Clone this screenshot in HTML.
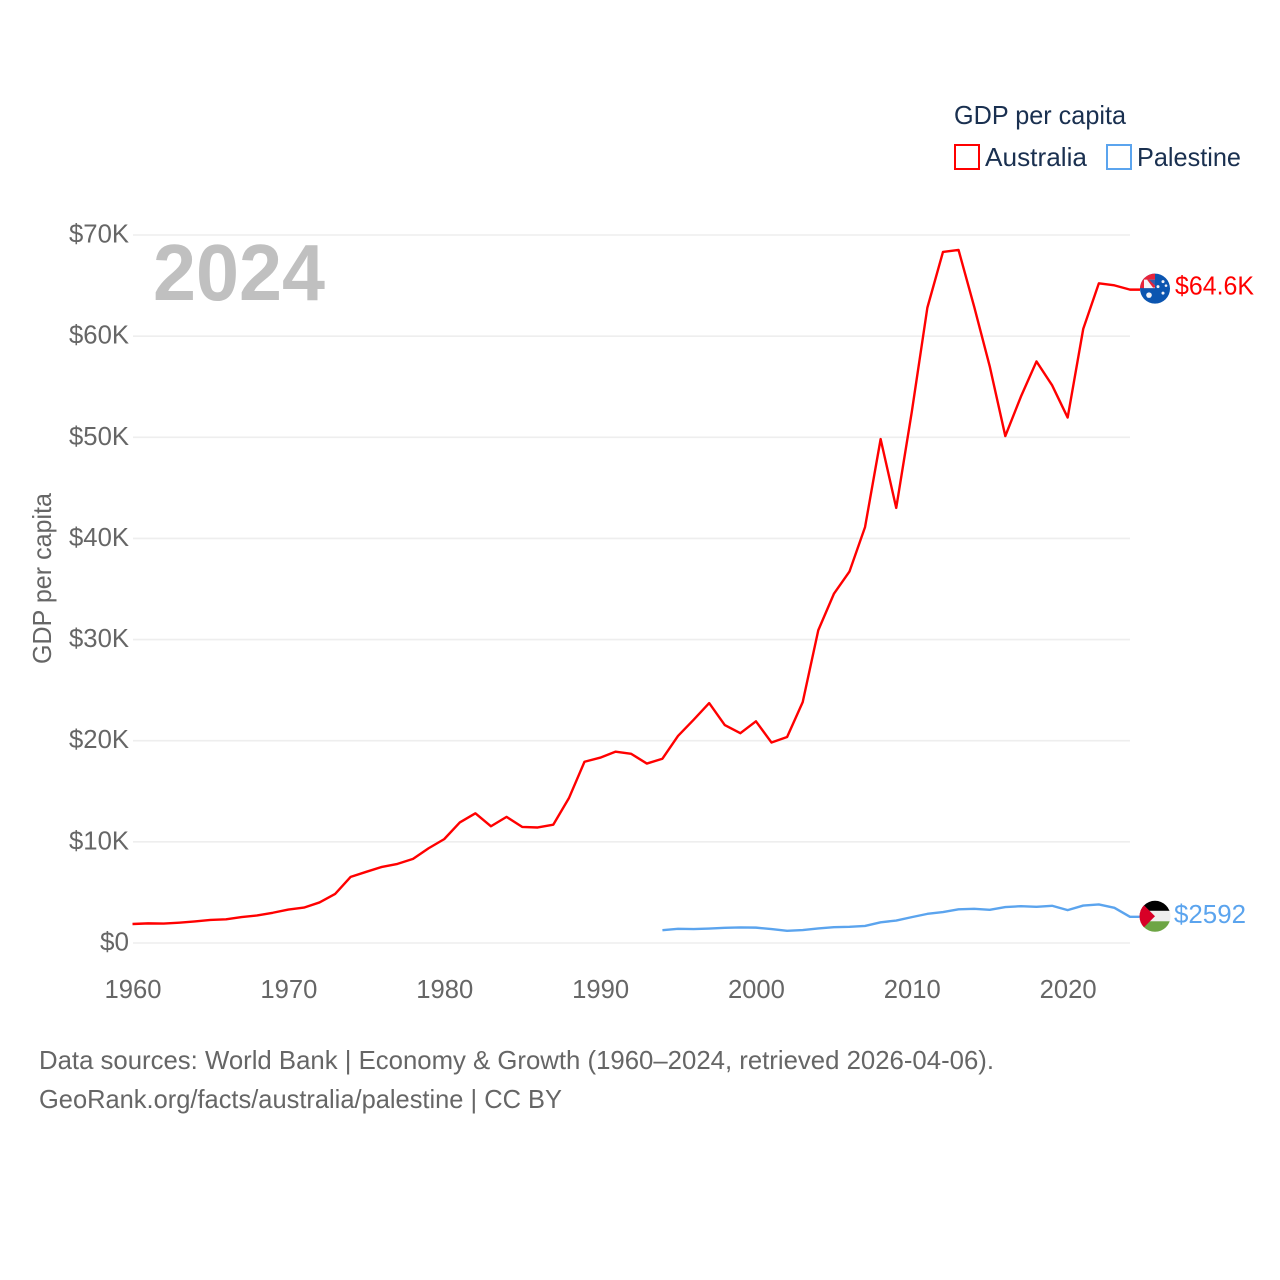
<!DOCTYPE html>
<html lang="en">
<head>
<meta charset="utf-8">
<title>GDP per capita: Australia and Palestine</title>
<style>
html,body{margin:0;padding:0;background:#fff}
svg{display:block;font-family:"Liberation Sans",sans-serif}
</style>
</head>
<body>
<svg id="chart" width="1280" height="1280" viewBox="0 0 1280 1280" xmlns="http://www.w3.org/2000/svg">
  <defs>
    <clipPath id="clip-au"><circle id="clip-au-circle" r="15"></circle></clipPath>
    <clipPath id="clip-ps"><circle id="clip-ps-circle" r="15.5"></circle></clipPath>
  </defs>
  <g id="grid"></g>
  <g id="yticks"></g>
  <g id="xticks"></g>
  <text transform="translate(51 664) rotate(-90)" font-size="26" fill="#666" textLength="171" lengthAdjust="spacingAndGlyphs">GDP per capita</text>
  <text x="153" y="300" font-size="80" font-weight="700" fill="#c0c0c0" textLength="172" lengthAdjust="spacingAndGlyphs">2024</text>
  <g id="series"></g>

  <g>
    <text x="954" y="124" font-size="26" fill="#1a3050" textLength="172" lengthAdjust="spacingAndGlyphs">GDP per capita</text>
    <rect x="955" y="145" width="24" height="24" fill="#fff" stroke="#ff0000" stroke-width="2"></rect>
    <text x="985" y="166" font-size="26" fill="#1a3050" textLength="102" lengthAdjust="spacingAndGlyphs">Australia</text>
    <rect x="1107" y="145" width="24" height="24" fill="#fff" stroke="#5ba4ee" stroke-width="2"></rect>
    <text x="1137" y="166" font-size="26" fill="#1a3050" textLength="104" lengthAdjust="spacingAndGlyphs">Palestine</text>
  </g>

  <text x="39" y="1069" font-size="26" fill="#666" textLength="955" lengthAdjust="spacingAndGlyphs">Data sources: World Bank | Economy &amp; Growth (1960–2024, retrieved 2026-04-06).</text>
  <text x="39" y="1108" font-size="26" fill="#666" textLength="523" lengthAdjust="spacingAndGlyphs">GeoRank.org/facts/australia/palestine | CC BY</text>

  <g id="flag-au">
    <g clip-path="url(#clip-au)">
      <rect x="-16" y="-16" width="32" height="32" fill="#0b55b0"></rect>
      <rect x="-16" y="-16" width="16" height="15.5" fill="#e8233a"></rect>
      <rect x="-11" y="-9" width="11" height="8.5" fill="#f4f4f8"></rect>
      <polygon points="-7,-9 0,-9 0,-3" fill="#3a5aa8"></polygon>
      <polygon points="-8,-9 -6,-9 0,-3 0,-1 -2,-1" fill="#e8233a"></polygon>
      <circle cx="-6" cy="6.5" r="2.8" fill="#f2f2f6"></circle>
      <circle cx="3" cy="-2" r="1.5" fill="#f2f2f6"></circle>
      <circle cx="8" cy="-7" r="1.5" fill="#f2f2f6"></circle>
      <circle cx="11" cy="-3" r="1.3" fill="#f2f2f6"></circle>
      <circle cx="8" cy="4.5" r="1.5" fill="#f2f2f6"></circle>
    </g>
  </g>
  <g id="flag-ps">
    <g clip-path="url(#clip-ps)">
      <rect x="-16" y="-16" width="32" height="11" fill="#000"></rect>
      <rect x="-16" y="-5.5" width="32" height="11" fill="#eeeeee"></rect>
      <rect x="-16" y="5" width="32" height="11" fill="#6da544"></rect>
      <polygon points="-16,-16 0,0 -16,16" fill="#d80027"></polygon>
    </g>
  </g>
  <text id="end-label-au" x="1175" font-size="26" fill="#ff0000" textLength="79" lengthAdjust="spacingAndGlyphs"></text>
  <text id="end-label-ps" x="1174" font-size="26" fill="#5ba4ee" textLength="72" lengthAdjust="spacingAndGlyphs"></text>
</svg>
<script>
const yTickValues = [0, 10000, 20000, 30000, 40000, 50000, 60000, 70000];
const yTickLabels = ["$0", "$10K", "$20K", "$30K", "$40K", "$50K", "$60K", "$70K"];
const xTickYears = [1960, 1970, 1980, 1990, 2000, 2010, 2020];
const australiaStartYear = 1960;
const australiaValues = [1880, 1940, 1920, 2010, 2130, 2280, 2340, 2570, 2720, 2990, 3310, 3500, 4010, 4850, 6540, 7040, 7520, 7820, 8320, 9370, 10270, 11920, 12820, 11540, 12470, 11480, 11420, 11700, 14320, 17920, 18320, 18920, 18700, 17740, 18220, 20470, 22070, 23720, 21550, 20740, 21920, 19820, 20370, 23820, 30920, 34520, 36720, 41120, 49820, 43020, 52520, 62820, 68320, 68520, 62920, 57020, 50120, 54020, 57500, 55150, 51950, 60720, 65220, 65020, 64600];
const palestineStartYear = 1994;
const palestineValues = [1270, 1400, 1380, 1430, 1500, 1540, 1520, 1380, 1200, 1280, 1440, 1560, 1600, 1690, 2050, 2220, 2560, 2880, 3060, 3330, 3380, 3280, 3550, 3640, 3580, 3680, 3250, 3700, 3810, 3480, 2592];
const endLabelAustralia = "$64.6K";
const endLabelPalestine = "$2592";

const NS = "http://www.w3.org/2000/svg";
function xScale(year) { return 132.5 + (year - 1960) * (1130 - 132.5) / 64; }
function yScale(v) { return 943 - v * (943 - 235) / 70000; }
function make(tag, parent, attrs) {
  const el = document.createElementNS(NS, tag);
  for (const k in attrs) el.setAttribute(k, attrs[k]);
  parent.appendChild(el);
  return el;
}

const gridG = document.getElementById("grid");
const yG = document.getElementById("yticks");
const xG = document.getElementById("xticks");
const seriesG = document.getElementById("series");

yTickValues.forEach(function (v, i) {
  const line = make("line", gridG, { x1: 133, x2: 1130, y1: yScale(v), y2: yScale(v), stroke: "#eeeeee", "stroke-width": 1.6 });
  
  
  const label = yTickLabels[i];
  const t = make("text", yG, { x: 129, y: yScale(v) + 7.5, "text-anchor": "end", "font-size": 26, fill: "#666", textLength: label.length === 2 ? 29 : 60, lengthAdjust: "spacingAndGlyphs" });
  
  
  t.textContent = label;
});

xTickYears.forEach(function (year) {
  const t = make("text", xG, { x: xScale(year) + 0.5, y: 998, "text-anchor": "middle", "font-size": 26, fill: "#666", textLength: 57, lengthAdjust: "spacingAndGlyphs" });
  
  
  t.textContent = String(year);
});

function drawSeries(values, startYear, color) {
  const pts = values.map(function (v, i) { return xScale(startYear + i).toFixed(2) + "," + yScale(v).toFixed(2); });
  const lastY = yScale(values[values.length - 1]);
  pts.push("1140," + lastY.toFixed(2));
  return make("polyline", seriesG, { points: pts.join(" "), fill: "none", stroke: color, "stroke-width": 2.4, "stroke-linejoin": "round" });
}

const auLine = drawSeries(australiaValues, australiaStartYear, "#ff0000");


const psLine = drawSeries(palestineValues, palestineStartYear, "#5ba4ee");



const auEndY = yScale(australiaValues[australiaValues.length - 1]) - 1;
const psEndY = yScale(palestineValues[palestineValues.length - 1]) - 0.5;
document.getElementById("clip-au-circle").setAttribute("r", "15");
document.getElementById("clip-ps-circle").setAttribute("r", "15.5");
document.getElementById("flag-au").setAttribute("transform", "translate(1155 " + auEndY + ")");
document.getElementById("flag-ps").setAttribute("transform", "translate(1155 " + psEndY + ")");
const auLabel = document.getElementById("end-label-au");
auLabel.setAttribute("y", auEndY + 6);
auLabel.textContent = endLabelAustralia;
const psLabel = document.getElementById("end-label-ps");
psLabel.setAttribute("y", psEndY + 6.5);
psLabel.textContent = endLabelPalestine;
</script>
</body>
</html>
